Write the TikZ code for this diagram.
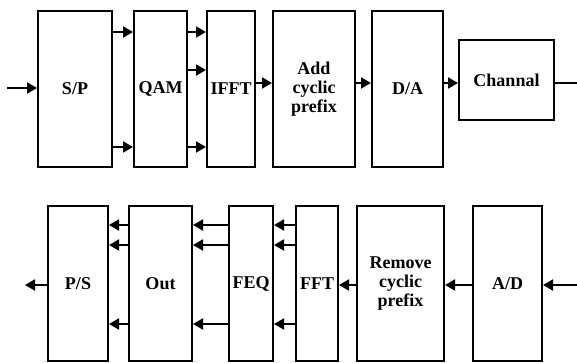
\documentclass[tikz,border=0pt]{standalone}
\usepackage{fontspec}
\setmainfont{Liberation Serif}
\usetikzlibrary{arrows.meta, positioning, calc}

\begin{document}
\begin{tikzpicture}[x=1pt, y=1pt,
  blk/.style={draw, line width=2pt, inner sep=0pt, minimum height=156pt,
              align=center, font=\fontsize{18}{19}\selectfont\bfseries},
  arr/.style={-{Triangle[length=10pt, width=11pt]}, line width=2pt}]
  \useasboundingbox (0,0) rectangle (577,362);
  % transmitter
  \node[blk, minimum width=74pt] (sp)   at (75,273)    {S/P};
  \node[blk, minimum width=53pt] (qam)  at (160.5,273) {QAM};
  \node[blk, minimum width=48pt] (ifft) at (231,273)   {IFFT};
  \node[blk, minimum width=82pt] (acp)  at (314,273)   {Add\\cyclic\\prefix};
  \node[blk, minimum width=71pt] (da)   at (407.5,273) {D/A};
  \node[blk, minimum width=95pt, minimum height=80pt] (ch) at (506.5,282) {Channal};
  \coordinate (txin)  at (7,274);
  \coordinate (chout) at (577,282);
  \draw[arr] (txin) -- (txin -| sp.west);
  \foreach \yy in {330,215}
    \draw[arr] (sp.east |- 0,\yy) -- (qam.west |- 0,\yy);
  \foreach \yy in {330,292,215}
    \draw[arr] (qam.east |- 0,\yy) -- (ifft.west |- 0,\yy);
  \draw[arr] (ifft.east |- 0,279) -- (acp.west |- 0,279);
  \draw[arr] (acp.east |- 0,279) -- (da.west |- 0,279);
  \draw[arr] (da.east |- 0,279) -- (ch.west |- 0,279);
  \draw[line width=2pt] (ch.east |- 0,279) -- (chout |- 0,279);
  % receiver
  \node[blk, minimum width=60pt, minimum height=155pt] (ps)  at (78,78.5)    {P/S};
  \node[blk, minimum width=63pt, minimum height=155pt] (out) at (160.5,78.5) {Out};
  \node[blk, minimum width=44pt, minimum height=155pt] (feq) at (251,78.5)   {FEQ};
  \node[blk, minimum width=42pt, minimum height=155pt] (fft) at (317,78.5)   {FFT};
  \node[blk, minimum width=87pt, minimum height=155pt] (rcp) at (400.5,78.5) {Remove\\cyclic\\prefix};
  \node[blk, minimum width=69pt, minimum height=155pt] (ad)  at (507.5,78.5) {A/D};
  \coordinate (rxin)  at (577,77);
  \coordinate (rxout) at (25,77);
  \draw[arr] (rxin) -- (rxin -| ad.east);
  \draw[arr] (ad.west |- 0,77) -- (rcp.east |- 0,77);
  \draw[arr] (rcp.west |- 0,77) -- (fft.east |- 0,77);
  \foreach \yy in {137,117,38} {
    \draw[arr] (fft.west |- 0,\yy) -- (feq.east |- 0,\yy);
    \draw[arr] (feq.west |- 0,\yy) -- (out.east |- 0,\yy);
    \draw[arr] (out.west |- 0,\yy) -- (ps.east |- 0,\yy);
  }
  \draw[arr] (ps.west |- 0,77) -- (rxout);
\end{tikzpicture}
\end{document}
